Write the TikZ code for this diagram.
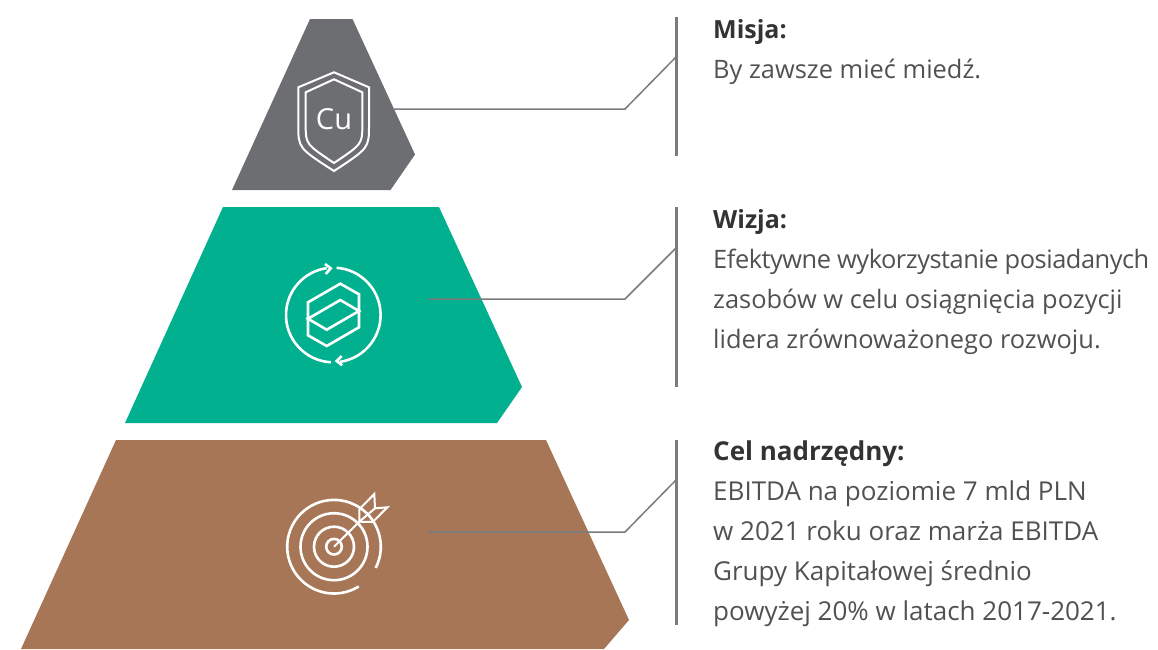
\documentclass[tikz,border=0pt]{standalone}
\usepackage{fontspec}
\setmainfont{Open Sans}
\definecolor{gtop}{HTML}{6D6E71}
\definecolor{gmid}{HTML}{00B08F}
\definecolor{gbot}{HTML}{A77656}
\definecolor{rulec}{HTML}{7A7B7E}
\definecolor{txt}{HTML}{505153}
\definecolor{ttl}{HTML}{333335}
\tikzset{
  icon/.style={draw=white,line width=2.6pt,line join=miter},
  thinicon/.style={draw=white,line width=2pt,line join=miter},
  connector/.style={draw=rulec,line width=1.5pt},
  vrule/.style={draw=rulec,line width=3pt},
  block/.style={anchor=north west,inner sep=0pt,align=left,text=txt,font=\fontsize{25.4}{40}\selectfont},
  bigblock/.style={block,font=\fontsize{26}{40}\selectfont},
}
\begin{document}
\begin{tikzpicture}[x=1pt,y=-1pt]
\useasboundingbox (0,0) rectangle (1158,649);
% pyramid layers
\fill[gtop] (310,19) -- (352.5,19) -- (415,154.5) -- (390.5,190) -- (232,190) -- cycle;
\fill[gmid] (223,207) -- (439,207) -- (522,387) -- (497,423) -- (125,423) -- cycle;
\fill[gbot] (116,440) -- (546,440) -- (629,620) -- (604,649) -- (21,649) -- cycle;
% shield icon
\draw[thinicon] (334,72.3) -- (369,87.3) -- (369,125) .. controls (369,148) .. (334,171) .. controls (298.3,148) .. (298.3,125) -- (298.3,87.3) -- cycle;
\draw[thinicon] (334,79.3) -- (362.3,92.3) -- (362.3,125) .. controls (362.3,144) .. (334,163) .. controls (305.7,144) .. (305.7,125) -- (305.7,92.3) -- cycle;
\node[text=white,inner sep=0pt,font=\fontsize{29}{30}\selectfont] (cu) at (334,119.5) {Cu};
% cycle icon
\draw[icon] (333.3,315) ++(93:47.3) arc[start angle=93,end angle=262,radius=47.3];
\draw[icon] (333.3,315) ++(82:47.3) arc[start angle=82,end angle=-86,radius=47.3];
\draw[icon] (325,264) -- (330.7,268.3) -- (325.7,274);
\draw[icon] (341.7,356) -- (336.7,361) -- (342.3,365.3);
\draw[icon] (340.3,283.7) -- (359,294.3) -- (359,327.3) -- (326.7,346) -- (308,335.3) -- (308,302.3) -- cycle;
\draw[icon] (340.3,300) -- (359,311) -- (326.7,329.7) -- (308,318.7) -- cycle;
% target icon
\draw[icon] (334,546.7) circle[radius=7.8];
\draw[icon] (334,546.7) circle[radius=20];
\draw[icon] (334,546.7) circle[radius=33.5];
\draw[icon] (334,546.7) ++(27:46.8) arc[start angle=27,end angle=-302,radius=46.8];
\draw[thinicon] (334,546.7) -- (359.3,521.7);
\draw[thinicon] (359.3,521.7) -- (359.3,509.3) -- (374.3,494) -- (375,508.3) -- (387.3,507.3) -- (372.7,522) -- cycle;
\draw[thinicon] (359.3,521.7) -- (375,508.3);
% anchors of the connectors
\coordinate (a1) at (393,109); \coordinate (b1) at (625,109); \coordinate (c1) at (676,57);
\coordinate (a2) at (428,299); \coordinate (b2) at (625,299); \coordinate (c2) at (676,248);
\coordinate (a3) at (428,532); \coordinate (b3) at (625,532); \coordinate (c3) at (676,480);
\coordinate (t1) at (676,17);  \coordinate (u1) at (676,156);
\coordinate (t2) at (676,207); \coordinate (u2) at (676,387);
\coordinate (t3) at (676,440); \coordinate (u3) at (676,625);
\draw[connector] (a1) -- (b1) -- (c1);
\draw[connector] (a2) -- (b2) -- (c2);
\draw[connector] (a3) -- (b3) -- (c3);
\draw[vrule] (t1) -- (u1);
\draw[vrule] (t2) -- (u2);
\draw[vrule] (t3) -- (u3);
% texts
\node[block] (misja) at (713,19) {{\bfseries\color{ttl}\fontsize{25}{40}\selectfont Misja:}\\By zawsze mieć miedź.};
\node[block] (wizja) at (713,209) {{\bfseries\color{ttl}\fontsize{25}{40}\selectfont Wizja:}\\{\addfontfeature{LetterSpace=-1.9}Efektywne wykorzystanie posiadanych}\\zasobów w celu osiągnięcia pozycji\\lidera zrównoważonego rozwoju.};
\node[bigblock] (cel) at (713,441) {{\bfseries\color{ttl}Cel nadrzędny:}\\EBITDA na poziomie 7 mld PLN\\w 2021 roku oraz marża EBITDA\\Grupy Kapitałowej średnio\\powyżej 20\% w latach 2017-2021.};
\end{tikzpicture}
\end{document}
